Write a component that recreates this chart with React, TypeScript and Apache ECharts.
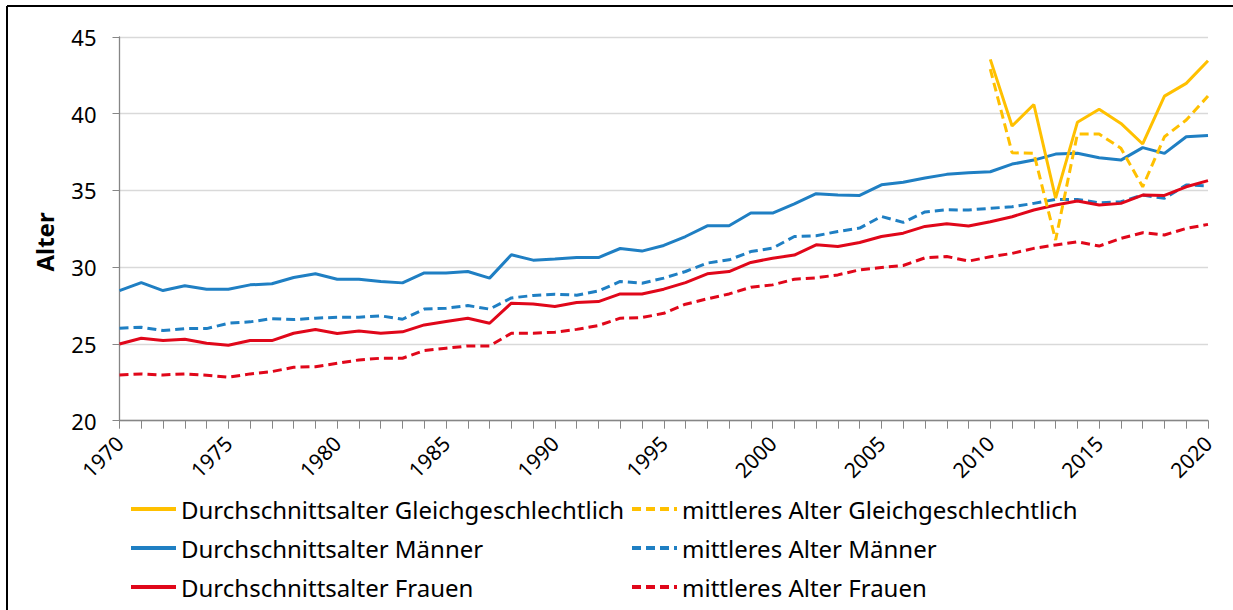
import React, { useEffect, useRef } from "react";
import * as echarts from "echarts";

const years: string[] = [];
for (let y = 1970; y <= 2020; y++) years.push(String(y));

const maennerAvg = [
  28.48, 29.0, 28.48, 28.79, 28.57, 28.57, 28.85, 28.92, 29.33, 29.57,
  29.22, 29.22, 29.07, 28.98, 29.63, 29.63, 29.72, 29.29, 30.81, 30.46,
  30.53, 30.63, 30.63, 31.22, 31.05, 31.42, 32.0, 32.7, 32.7, 33.53,
  33.53, 34.13, 34.79, 34.7, 34.68, 35.37, 35.53, 35.81, 36.05, 36.16,
  36.22, 36.72, 36.98, 37.37, 37.42, 37.13, 36.98, 37.79, 37.42, 38.5,
  38.59,
];
const maennerMed = [
  26.03, 26.09, 25.87, 26.0, 26.0, 26.35, 26.44, 26.65, 26.59, 26.68,
  26.74, 26.74, 26.83, 26.61, 27.27, 27.33, 27.5, 27.27, 28.0, 28.16,
  28.24, 28.18, 28.45, 29.07, 28.96, 29.29, 29.72, 30.27, 30.48, 31.02,
  31.24, 32.0, 32.05, 32.33, 32.55, 33.31, 32.92, 33.6, 33.74, 33.73,
  33.84, 33.94, 34.16, 34.42, 34.42, 34.2, 34.27, 34.7, 34.49, 35.36,
  35.3,
];
const frauenAvg = [
  25.0, 25.37, 25.22, 25.31, 25.05, 24.92, 25.22, 25.22, 25.7, 25.94,
  25.68, 25.85, 25.7, 25.79, 26.24, 26.46, 26.68, 26.35, 27.66, 27.61,
  27.44, 27.7, 27.76, 28.26, 28.26, 28.57, 29.0, 29.57, 29.72, 30.31,
  30.59, 30.79, 31.46, 31.35, 31.61, 32.0, 32.22, 32.66, 32.83, 32.68,
  32.96, 33.29, 33.73, 34.05, 34.31, 34.05, 34.16, 34.7, 34.68, 35.24,
  35.64,
];
const frauenMed = [
  22.98, 23.05, 22.98, 23.05, 22.96, 22.83, 23.05, 23.2, 23.48, 23.52,
  23.74, 23.96, 24.07, 24.07, 24.57, 24.72, 24.87, 24.87, 25.7, 25.7,
  25.77, 25.95, 26.2, 26.68, 26.72, 27.0, 27.59, 27.94, 28.26, 28.7,
  28.85, 29.22, 29.31, 29.5, 29.83, 29.98, 30.11, 30.61, 30.7, 30.4,
  30.68, 30.9, 31.23, 31.45, 31.66, 31.38, 31.88, 32.25, 32.1, 32.53,
  32.79,
];
// 2010..2020
const gleichAvg = [43.54, 39.2, 40.6, 34.5, 39.44, 40.29, 39.37, 38.03, 41.15, 41.98, 43.45];
const gleichMed = [42.9, 37.46, 37.42, 31.77, 38.68, 38.68, 37.75, 35.24, 38.5, 39.59, 41.15];

const yTicks = { min: 20, max: 45, interval: 5 };

const names = {
  gA: "Durchschnittsalter Gleichgeschlechtlich",
  gM: "mittleres Alter Gleichgeschlechtlich",
  mA: "Durchschnittsalter Männer",
  mM: "mittleres Alter Männer",
  fA: "Durchschnittsalter Frauen",
  fM: "mittleres Alter Frauen",
};

const YELLOW = "#ffc000";
const BLUE = "#1f7fc3";
const RED = "#e0071a";
const FONT = "Noto Sans";

function pad2010(arr: number[]) {
  const out: (number | null)[] = [];
  for (let i = 0; i < 40; i++) out.push(null);
  return out.concat(arr);
}

export default function App() {
  const ref = useRef<HTMLDivElement>(null);
  useEffect(() => {
    if (!ref.current) return;
    const chart = echarts.init(ref.current, null, { renderer: "svg" });
    const dash = [9, 5];
    const mk = (name: string, data: (number | null)[], color: string, dashed: boolean) => ({
      name,
      type: "line",
      data,
      symbol: "none",
      showSymbol: false,
      connectNulls: false,
      lineStyle: { color, width: 3, type: dashed ? dash : "solid" },
      itemStyle: { color },
      emphasis: { disabled: true },
    });
    const legendRow = (name: string, left: number, top: number) => ({
      data: [name],
      left,
      top,
      padding: 0,
      itemWidth: 45,
      itemHeight: 12,
      selectedMode: false,
      itemStyle: { opacity: 0 },
      lineStyle: { width: 4 },
      textStyle: { fontFamily: FONT, fontSize: 24, color: "#000" },
    });
    chart.setOption({
      animation: false,
      grid: { left: 119.5, right: 25, top: 37, bottom: 610 - 420.7, containLabel: false },
      xAxis: {
        type: "category",
        data: years,
        boundaryGap: false,
        axisLine: { lineStyle: { color: "#868686", width: 1.3 } },
        axisTick: { interval: 0, length: 8, lineStyle: { color: "#868686" } },
        axisLabel: {
          interval: 4,
          rotate: 45,
          margin: 19,
          fontFamily: FONT,
          fontSize: 21,
          color: "#000",
        },
        splitLine: { show: false },
      },
      yAxis: {
        type: "value",
        min: yTicks.min,
        max: yTicks.max,
        interval: yTicks.interval,
        axisLine: { show: true, lineStyle: { color: "#868686", width: 1.3 } },
        axisTick: { show: true, length: 7, lineStyle: { color: "#868686" } },
        axisLabel: { margin: 23, fontFamily: FONT, fontSize: 22, color: "#000" },
        splitLine: { lineStyle: { color: "#d9d9d9", width: 1.3 } },
      },
      legend: [
        legendRow(names.gA, 129, 497),
        legendRow(names.mA, 129, 536),
        legendRow(names.fA, 129, 575),
        legendRow(names.gM, 630, 497),
        legendRow(names.mM, 630, 536),
        legendRow(names.fM, 630, 575),
      ],
      graphic: [
        { type: "line", shape: { x1: 7, y1: 6, x2: 1233, y2: 6 }, style: { stroke: "#000", lineWidth: 2 } },
        { type: "line", shape: { x1: 7, y1: 6, x2: 7, y2: 610 }, style: { stroke: "#000", lineWidth: 2 } },
        {
          type: "text",
          x: 44,
          y: 242,
          rotation: Math.PI / 2,
          style: {
            text: "Alter",
            fontFamily: FONT,
            fontSize: 24,
            fontWeight: "bold",
            fill: "#000",
            align: "center",
            verticalAlign: "middle",
          },
        },
      ],
      series: [
        mk(names.fM, frauenMed, RED, true),
        mk(names.mM, maennerMed, BLUE, true),
        mk(names.fA, frauenAvg, RED, false),
        mk(names.mA, maennerAvg, BLUE, false),
        mk(names.gM, pad2010(gleichMed), YELLOW, true),
        mk(names.gA, pad2010(gleichAvg), YELLOW, false),
      ],
    });
    return () => chart.dispose();
  }, []);
  return (
    <div
      ref={ref}
      style={{ position: "fixed", left: 0, top: 0, width: 1233, height: 610, background: "#fff" }}
    />
  );
}
